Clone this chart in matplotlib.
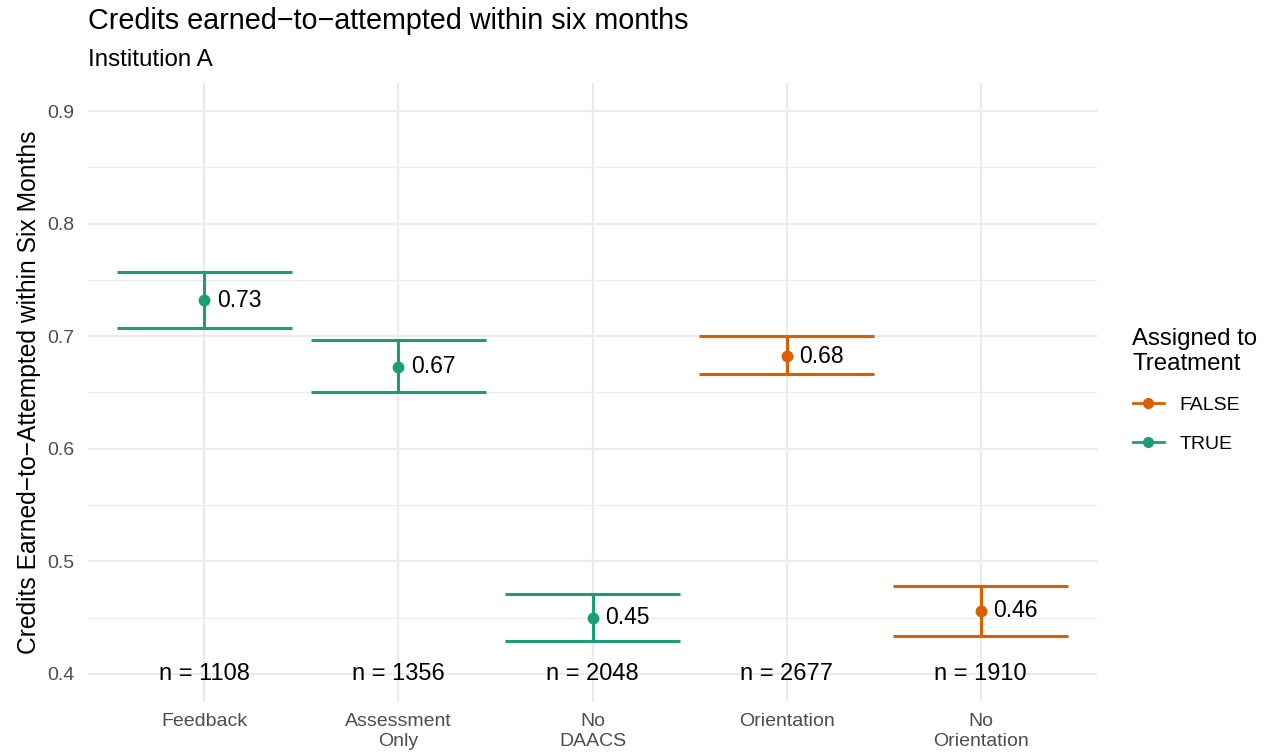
import numpy as np
import matplotlib.pyplot as plt
from matplotlib.lines import Line2D
from matplotlib.ticker import MultipleLocator

plt.rcParams['font.family'] = ['Liberation Sans', 'DejaVu Sans']

# values
groups = ['Feedback', 'Assessment\nOnly', 'No\nDAACS', 'Orientation', 'No\nOrientation']
treated = [True, True, True, False, False]
mean = [0.732, 0.673, 0.450, 0.682, 0.456]
lower = [0.707, 0.650, 0.429, 0.666, 0.434]
upper = [0.757, 0.697, 0.471, 0.700, 0.478]
labels = ['0.73', '0.67', '0.45', '0.68', '0.46']
counts = [1108, 1356, 2048, 2677, 1910]

colors = {False: '#D95F02', True: '#1B9E77'}

fig = plt.figure(figsize=(12.72, 7.54), dpi=100)
ax = fig.add_axes([88 / 1272, 1 - 702 / 754, (1097 - 88) / 1272, (702 - 83) / 754])

x = np.arange(1, len(groups) + 1)
for xi, m, lo, hi, t, lab, n in zip(x, mean, lower, upper, treated, labels, counts):
    c = colors[t]
    ax.hlines([lo, hi], xi - 0.45, xi + 0.45, color=c, lw=2.2)
    ax.vlines(xi, lo, hi, color=c, lw=2.2)
    ax.plot(xi, m, 'o', color=c, ms=7.5, zorder=5)
    ax.annotate(lab, (xi, m), xytext=(9, 0), textcoords='offset points',
                va='center', ha='left', fontsize=16.5, color='black')
    ax.text(xi, 0.4, f'n = {n}', ha='center', va='center', fontsize=17, color='black')

ax.set_xlim(0.4, 5.6)
ax.set_ylim(0.375, 0.925)
ax.set_xticks(x)
ax.set_xticklabels(groups)
ax.yaxis.set_minor_locator(MultipleLocator(0.05))
ax.set_yticks([0.4, 0.5, 0.6, 0.7, 0.8, 0.9])
ax.set_yticklabels(['0.4', '0.5', '0.6', '0.7', '0.8', '0.9'])
ax.tick_params(axis='both', which='both', length=0, labelsize=14, labelcolor='#4D4D4D')
ax.tick_params(axis='x', pad=8)
ax.tick_params(axis='y', pad=10)

ax.grid(True, which='major', color='#EBEBEB', lw=1.6)
ax.grid(True, which='minor', axis='y', color='#EBEBEB', lw=0.8)
ax.set_axisbelow(True)
for s in ax.spines.values():
    s.set_visible(False)

ax.set_ylabel('Credits Earned\u2212to\u2212Attempted within Six Months', fontsize=17.7, labelpad=4)

fig.text(88 / 1272, 1 - 29 / 754, 'Credits earned\u2212to\u2212attempted within six months',
         fontsize=20.7, ha='left', va='baseline')
fig.text(88 / 1272, 1 - 66 / 754, 'Institution A', fontsize=17.4, ha='left', va='baseline')

handles = [Line2D([], [], color=colors[k], lw=2, marker='o', ms=7) for k in (False, True)]
leg = fig.legend(handles, ['FALSE', 'TRUE'], title='Assigned to\nTreatment',
                 loc='upper left', bbox_to_anchor=(1115 / 1272, 1 - 310 / 754),
                 frameon=False, fontsize=14, title_fontsize=17.3, alignment='left',
                 handlelength=1.6, handletextpad=0.8, labelspacing=1.1)

fig.savefig('out.png', dpi=100)
